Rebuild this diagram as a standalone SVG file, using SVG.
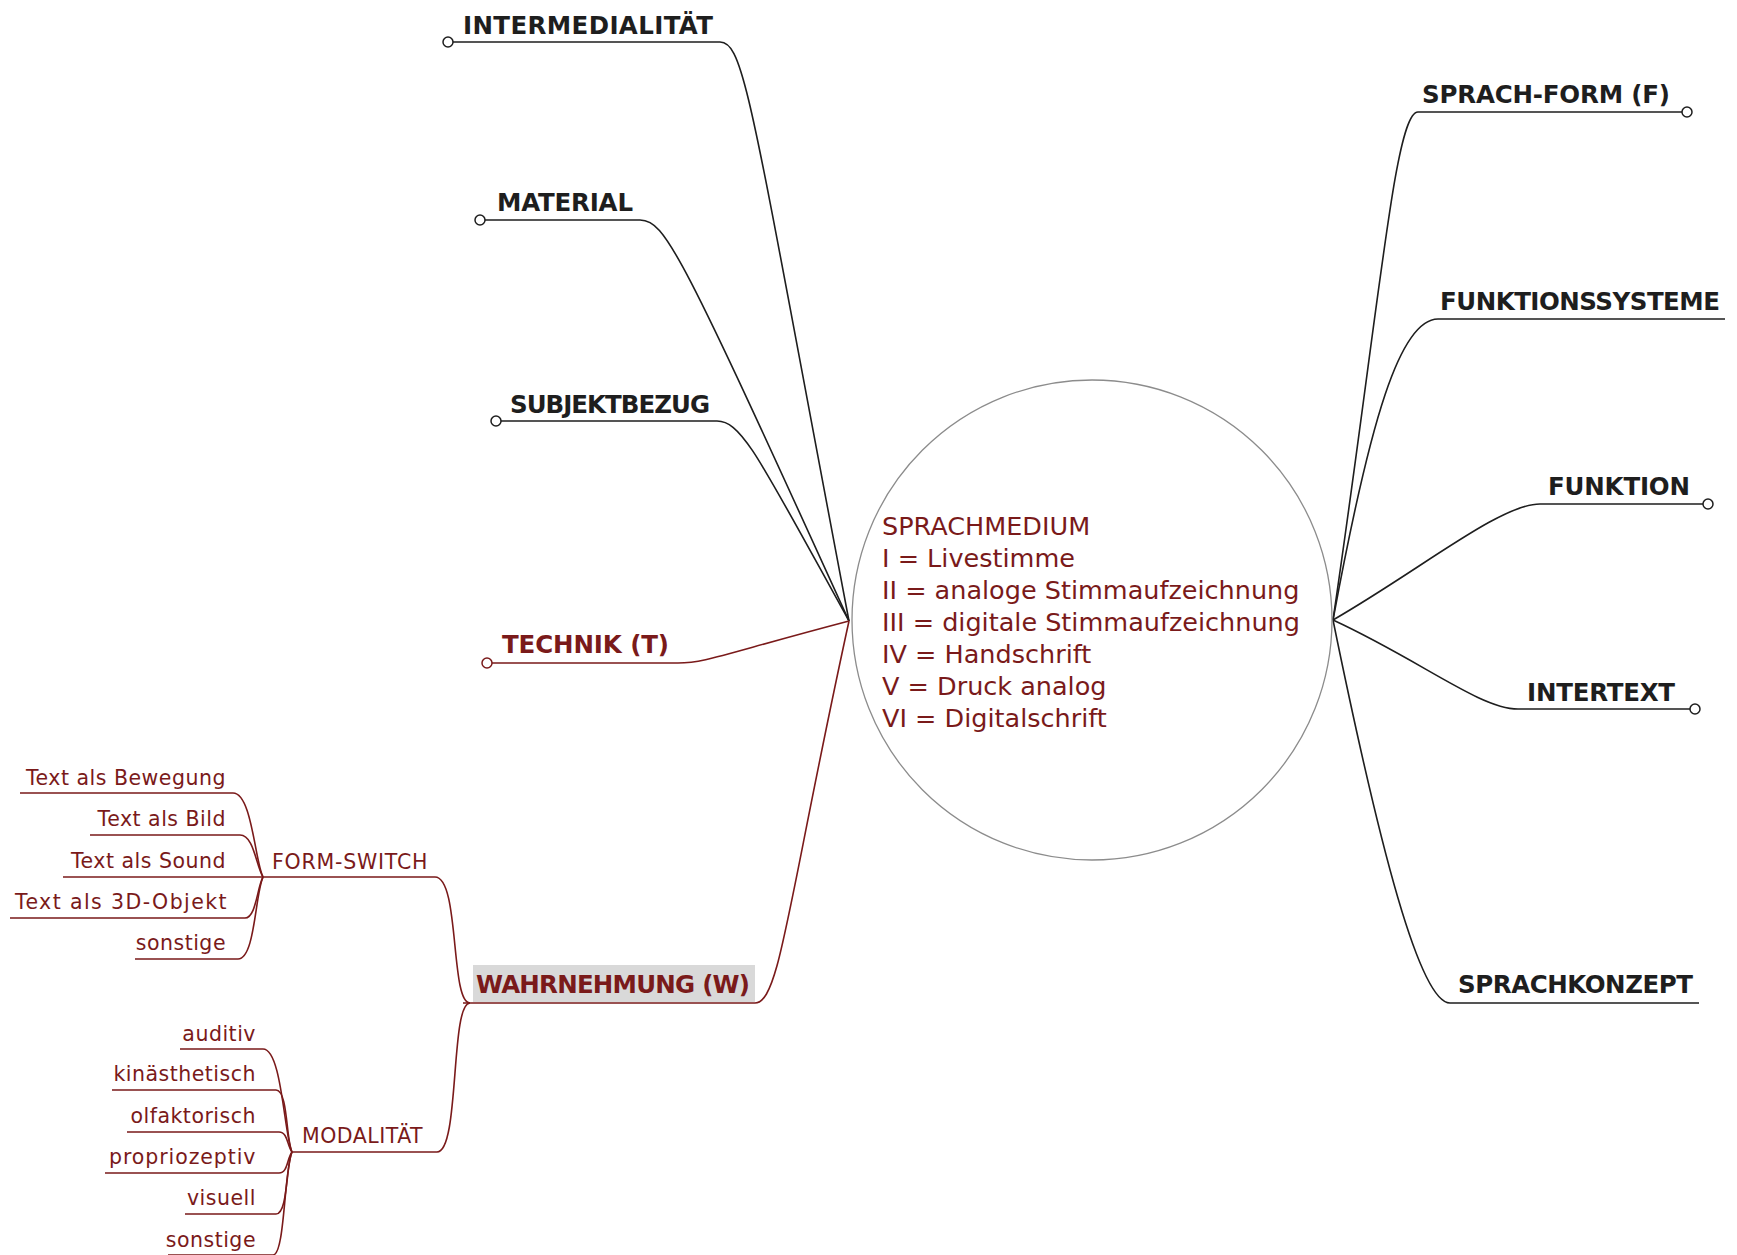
<svg xmlns="http://www.w3.org/2000/svg" width="1737" height="1255" viewBox="0 0 1737 1255">
<style>
.bg{fill:#ffffff}
.lk{fill:none;stroke:#1e1e1e;stroke-width:1.6}
.lr{fill:none;stroke:#7a1a1a;stroke-width:1.6}
.main{font-family:"DejaVu Sans",sans-serif;font-weight:bold;font-size:24.5px;fill:#1e1e1e}
.mainr{font-family:"DejaVu Sans",sans-serif;font-weight:bold;font-size:24.5px;fill:#7a1a1a}
.sub{font-family:"DejaVu Sans",sans-serif;font-size:20.5px;letter-spacing:0.5px;fill:#7a1a1a}
.ctr{font-family:"DejaVu Sans",sans-serif;font-size:25.5px;fill:#7a1a1a}
.dotk{fill:#fff;stroke:#1e1e1e;stroke-width:1.5}
.dotr{fill:#fff;stroke:#7a1a1a;stroke-width:1.5}
</style>
<rect class="bg" x="0" y="0" width="1737" height="1255"/>
<g id="connectors">
  <path class="lk" d="M453,42 L720,42 C745,42 752,110 849,621"/>
  <path class="lk" d="M485,220 L640,220 C665,220 680,250 849,621"/>
  <path class="lk" d="M501,421 L717,421 C742,421 760,460 849,621"/>
  <path class="lr" d="M492,663 L678,663 C705,663 720,655 849,621"/>
  <path class="lr" d="M463,1003 L755,1003 C780,1003 788,900 849,621"/>
  <path class="lk" d="M1682,112 L1418,112 C1395,112 1380,300 1333,620"/>
  <path class="lk" d="M1725,319 L1438,319 C1400,319 1370,420 1333,620"/>
  <path class="lk" d="M1703,504 L1540,504 C1500,504 1420,570 1333,620"/>
  <path class="lk" d="M1690,709 L1518,709 C1480,709 1420,660 1333,620"/>
  <path class="lk" d="M1699,1003 L1450,1003 C1420,1003 1380,850 1333,620"/>
  <path class="lr" d="M263,877 L435,877 C460,877 450,1003 470,1003"/>
  <path class="lr" d="M292,1152 L437,1152 C460,1152 450,1003 470,1003"/>
  <path class="lr" d="M20,793 L233,793 C252,793 255,862 263,877"/>
  <path class="lr" d="M90,835 L240,835 C254,835 256,866 263,877"/>
  <path class="lr" d="M63,877 L263,877"/>
  <path class="lr" d="M10,918 L245,918 C256,918 257,888 263,877"/>
  <path class="lr" d="M135,959 L238,959 C255,959 255,895 263,877"/>
  <path class="lr" d="M180,1049 L263,1049 C282,1049 284,1135 292,1152"/>
  <path class="lr" d="M112,1090 L276,1090 C288,1090 286,1140 292,1152"/>
  <path class="lr" d="M127,1132 L279,1132 C288,1132 287,1146 292,1152"/>
  <path class="lr" d="M105,1173 L279,1173 C288,1173 287,1158 292,1152"/>
  <path class="lr" d="M185,1214 L276,1214 C288,1214 286,1165 292,1152"/>
  <path class="lr" d="M168,1255 L273,1255 C285,1255 284,1170 292,1152"/>
</g>
<g id="center">
  <circle cx="1092" cy="620" r="240" fill="#fff" stroke="#8c8c8c" stroke-width="1.3"/>
  <text class="ctr" x="882" y="535">SPRACHMEDIUM</text>
  <text class="ctr" x="882" y="567">I = Livestimme</text>
  <text class="ctr" x="882" y="599">II = analoge Stimmaufzeichnung</text>
  <text class="ctr" x="882" y="631">III = digitale Stimmaufzeichnung</text>
  <text class="ctr" x="882" y="663">IV = Handschrift</text>
  <text class="ctr" x="882" y="695">V = Druck analog</text>
  <text class="ctr" x="882" y="727">VI = Digitalschrift</text>
</g>
<g id="intermedialitaet">
  <circle class="dotk" cx="448" cy="42" r="5"/>
  <text class="main" x="463" y="34" textLength="250">INTERMEDIALITÄT</text>
</g>
<g id="material">
  <circle class="dotk" cx="480" cy="220" r="5"/>
  <text class="main" x="497" y="211" textLength="136">MATERIAL</text>
</g>
<g id="subjektbezug">
  <circle class="dotk" cx="496" cy="421" r="5"/>
  <text class="main" x="510" y="413" textLength="200">SUBJEKTBEZUG</text>
</g>
<g id="technik">
  <circle class="dotr" cx="487" cy="663" r="5"/>
  <text class="mainr" x="502" y="653" textLength="167">TECHNIK (T)</text>
</g>
<g id="wahrnehmung">
  <rect x="473" y="965" width="282" height="37" fill="#d9d9d9"/>
  <text class="mainr" x="476" y="993" textLength="274">WAHRNEHMUNG (W)</text>
</g>
<g id="form-switch">
  <text class="sub" x="272" y="869" textLength="156">FORM-SWITCH</text>
</g>
<g id="fs-bewegung"><text class="sub" x="226" y="785" text-anchor="end">Text als Bewegung</text></g>
<g id="fs-bild"><text class="sub" x="226" y="826" text-anchor="end">Text als Bild</text></g>
<g id="fs-sound"><text class="sub" x="226" y="868" text-anchor="end">Text als Sound</text></g>
<g id="fs-3d"><text class="sub" x="227" y="909" text-anchor="end" textLength="212">Text als 3D-Objekt</text></g>
<g id="fs-sonstige"><text class="sub" x="226" y="950" text-anchor="end">sonstige</text></g>
<g id="modalitaet">
  <text class="sub" x="302" y="1143">MODALITÄT</text>
</g>
<g id="m-auditiv"><text class="sub" x="256" y="1041" text-anchor="end">auditiv</text></g>
<g id="m-kinaesthetisch"><text class="sub" x="256" y="1081" text-anchor="end">kinästhetisch</text></g>
<g id="m-olfaktorisch"><text class="sub" x="256" y="1123" text-anchor="end">olfaktorisch</text></g>
<g id="m-propriozeptiv"><text class="sub" x="256" y="1164" text-anchor="end" textLength="147">propriozeptiv</text></g>
<g id="m-visuell"><text class="sub" x="256" y="1205" text-anchor="end">visuell</text></g>
<g id="m-sonstige"><text class="sub" x="256" y="1247" text-anchor="end">sonstige</text></g>
<g id="sprach-form">
  <circle class="dotk" cx="1687" cy="112" r="5"/>
  <text class="main" x="1422" y="103" textLength="248">SPRACH-FORM (F)</text>
</g>
<g id="funktionssysteme">
  <text class="main" x="1440" y="310" textLength="280">FUNKTIONSSYSTEME</text>
</g>
<g id="funktion">
  <circle class="dotk" cx="1708" cy="504" r="5"/>
  <text class="main" x="1548" y="495" textLength="142">FUNKTION</text>
</g>
<g id="intertext">
  <circle class="dotk" cx="1695" cy="709" r="5"/>
  <text class="main" x="1527" y="701" textLength="148">INTERTEXT</text>
</g>
<g id="sprachkonzept">
  <text class="main" x="1458" y="993" textLength="235">SPRACHKONZEPT</text>
</g>
</svg>
